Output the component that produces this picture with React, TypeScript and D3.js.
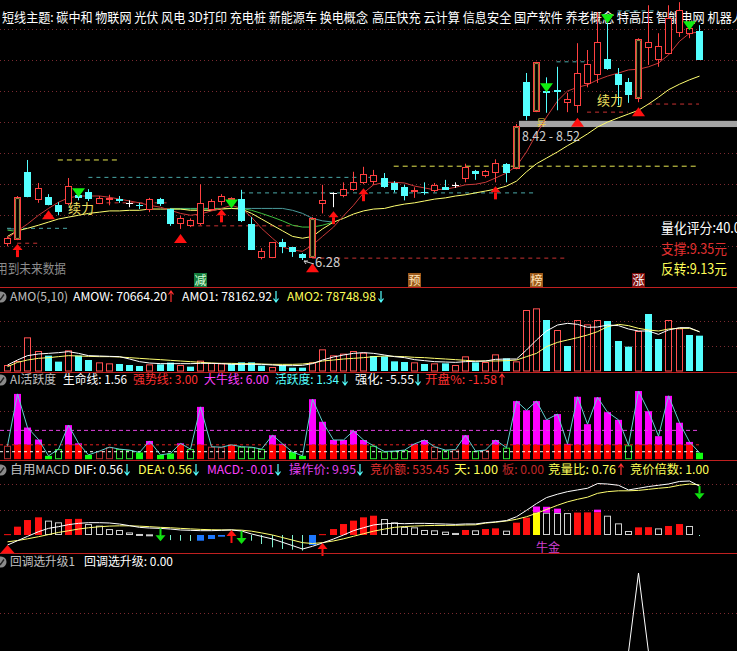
import React from 'react';
import * as d3 from 'd3';

const W = 737;
const H = 651;
const FONT = '"Noto Sans CJK SC", "Noto Sans", sans-serif';

// daily candles, 69 sessions
const opens = [6.55, 6.62, 7.70, 7.26, 7.29, 7.16, 7.20, 7.32, 7.37, 7.20,
  7.27, 7.26, 7.20, 7.17, 7.10, 7.26, 7.10, 6.87, 6.84, 6.87,
  7.10, 7.23, 7.27, 7.26, 6.86, 6.33, 6.33, 6.57, 6.49, 6.38,
  6.33, 7.20, 7.36, 7.33, 7.42, 7.53, 7.55, 7.60, 7.52, 7.45,
  7.40, 7.38, 7.41, 7.45, 7.49, 7.60, 7.71, 7.65, 7.70, 7.83,
  7.76, 9.14, 8.68, 9.00, 9.02, 8.82, 8.77, 9.13, 9.27, 9.51,
  9.27, 9.14, 8.89, 9.71, 9.51, 9.61, 9.95, 9.93, 9.97];
const closes = [6.63, 7.29, 7.31, 7.44, 7.18, 7.07, 7.47, 7.30, 7.28, 7.28,
  7.28, 7.25, 7.20, 7.16, 7.26, 7.20, 6.87, 6.95, 6.92, 7.20,
  7.23, 7.31, 7.28, 6.92, 6.46, 6.42, 6.57, 6.50, 6.42, 6.33,
  6.95, 7.24, 7.36, 7.42, 7.53, 7.66, 7.65, 7.47, 7.42, 7.33,
  7.41, 7.37, 7.49, 7.42, 7.49, 7.78, 7.68, 7.71, 7.84, 7.70,
  8.44, 8.61, 9.47, 8.98, 9.00, 8.87, 9.29, 9.43, 9.79, 9.37,
  9.11, 8.95, 9.84, 9.79, 9.72, 10.17, 10.30, 10.01, 9.51];
const highs = [6.66, 7.31, 7.89, 7.52, 7.34, 7.21, 7.60, 7.37, 7.42, 7.31,
  7.33, 7.31, 7.24, 7.20, 7.28, 7.28, 7.11, 6.99, 6.95, 7.50,
  7.26, 7.34, 7.29, 7.41, 6.97, 6.47, 6.57, 6.62, 6.49, 6.39,
  6.97, 7.49, 7.37, 7.53, 7.70, 7.78, 7.73, 7.68, 7.55, 7.49,
  7.45, 7.53, 7.52, 7.57, 7.53, 7.83, 7.73, 7.73, 7.90, 7.84,
  8.47, 9.29, 9.47, 9.22, 9.39, 8.97, 9.77, 9.66, 10.27, 10.19,
  9.37, 9.21, 9.85, 10.38, 9.93, 10.38, 10.43, 10.14, 10.06];
const lows = [6.50, 6.60, 7.29, 7.20, 7.16, 7.00, 7.16, 7.24, 7.23, 7.18,
  7.16, 7.20, 7.13, 7.10, 7.05, 7.15, 6.83, 6.78, 6.81, 6.84,
  7.07, 7.16, 7.24, 6.89, 6.44, 6.29, 6.31, 6.39, 6.33, 6.28,
  6.31, 7.03, 7.13, 7.29, 7.39, 7.50, 7.49, 7.44, 7.37, 7.24,
  7.28, 7.33, 7.37, 7.41, 7.44, 7.53, 7.57, 7.61, 7.53, 7.53,
  7.74, 8.53, 8.66, 8.65, 8.69, 8.66, 8.65, 9.06, 9.13, 9.34,
  8.77, 8.81, 8.82, 9.42, 9.39, 9.60, 9.87, 9.85, 9.50];

// moving averages on the price panel
const maRed = [6.63, 6.75, 6.86, 7.00, 7.11, 7.21, 7.28, 7.31, 7.31, 7.31,
  7.29, 7.26, 7.23, 7.20, 7.16, 7.13, 7.08, 7.03, 7.00, 7.02,
  7.07, 7.11, 7.16, 7.11, 6.97, 6.79, 6.63, 6.49, 6.44, 6.42,
  6.52, 6.66, 6.81, 6.99, 7.16, 7.36, 7.49, 7.53, 7.53, 7.52,
  7.47, 7.44, 7.41, 7.42, 7.45, 7.49, 7.50, 7.53, 7.60, 7.68,
  7.79, 8.02, 8.31, 8.58, 8.84, 9.00, 9.06, 9.10, 9.18, 9.24,
  9.29, 9.34, 9.35, 9.39, 9.45, 9.58, 9.80, 9.93, 9.95];
const maYellow = [6.66, 6.75, 6.79, 6.84, 6.89, 6.94, 6.97, 7.00, 7.03, 7.05,
  7.07, 7.07, 7.08, 7.08, 7.10, 7.10, 7.10, 7.10, 7.08, 7.08,
  7.08, 7.10, 7.11, 7.10, 7.03, 6.94, 6.84, 6.75, 6.66, 6.63,
  6.66, 6.78, 6.89, 6.95, 7.02, 7.07, 7.10, 7.11, 7.15, 7.18,
  7.20, 7.23, 7.26, 7.28, 7.31, 7.33, 7.36, 7.39, 7.42, 7.47,
  7.55, 7.70, 7.83, 7.92, 8.02, 8.12, 8.21, 8.31, 8.42, 8.50,
  8.57, 8.63, 8.69, 8.79, 8.90, 9.02, 9.11, 9.18, 9.24];
const maGreen: (number | null)[] = [6.76, 6.74, ...Array(14).fill(null),
  7.10, 7.10, 7.10, 7.10, 7.10, 7.11, 7.11, 7.11,
  7.08, 7.03, 6.97, 6.91, 6.84, 6.81, 6.81, 6.84, 6.89, ...Array(36).fill(null)];
const maTeal: (number | null)[] = [6.78, 6.78, ...Array(14).fill(null),
  7.11, 7.11, 7.11, 7.11, 7.11, 7.11, 7.11, 7.11, 7.11, 7.11, 7.11, 7.11,
  7.08, 7.03, 6.95, 6.91, 6.89, ...Array(36).fill(null)];

// dashed level lines: [from index, to index, price]
const yellowLevels = [[5, 11, 7.89], [38, 68, 7.79]];
const tealLevels = [[0, 6, 6.79], [8, 36, 7.61], [23, 52, 7.36], [54, 57, 9.47], [60, 64, 10.29]];
const redLevels = [[1, 3, 6.55], [9, 16, 7.20], [18, 29, 6.83], [30, 55, 6.31], [57, 61, 8.66], [63, 68, 8.79]];
const bandLow = 8.42;
const bandHigh = 8.52;

// signals on the price panel
const upArrowIdx = [1, 21, 32, 35, 48];
const redTriIdx = [4, 17, 30, 56, 62];
const greenTriIdx = [7, 22, 53, 59, 67];
const greenTriPrice = [7.29, 7.11, 8.98, 10.09, 9.98];
const xuliIdx = [6, 58];
const xuliPrice = [7.03, 8.77];
const tagIdx = [19, 40, 52, 62];
const tagText = ['减', '预', '榜', '涨'];

// turnover (AMO)
const amo = [12000, 20000, 67300, 40000, 30700, 18700, 41300, 30700, 22000, 17300,
  15300, 14000, 12000, 10000, 13300, 13300, 16700, 12000, 8700, 20700,
  16000, 15300, 14700, 17300, 17300, 10700, 8000, 12000, 6700, 6700,
  17300, 43300, 31300, 34700, 40000, 36700, 30000, 29300, 19300, 18000,
  17300, 14000, 15300, 15300, 12000, 29300, 17300, 18000, 33300, 25300,
  19300, 122000, 125300, 102000, 82000, 50000, 102000, 93300, 102000, 100000,
  60000, 48700, 80000, 114000, 64000, 102000, 85300, 72000, 70664];
const amo1 = [12000, 22000, 30700, 34000, 35300, 36700, 38700, 35300, 30700, 30000,
  29300, 28700, 24000, 18700, 16000, 14700, 14700, 14700, 14700, 15300,
  15300, 14700, 13300, 13300, 13300, 13300, 12000, 10700, 10700, 11300,
  14700, 22000, 28000, 32000, 35300, 36700, 35300, 32000, 28700, 26700,
  22700, 20700, 18700, 18000, 17300, 18700, 19300, 20000, 23300, 24000,
  24000, 42000, 62000, 80000, 92000, 95300, 93300, 87300, 88000, 92000,
  90700, 84000, 80000, 80000, 73300, 82000, 86700, 86700, 78163];
const amo2 = [8700, 17300, 22000, 25300, 26700, 28700, 30700, 30000, 29300, 28700,
  28700, 28000, 26700, 25300, 24000, 22700, 21300, 20000, 18700, 17300,
  16000, 15300, 15300, 14700, 14700, 14000, 13300, 13300, 13300, 14000,
  16000, 20000, 22000, 24000, 25300, 26700, 28700, 30000, 29300, 28700,
  27300, 26700, 25300, 24000, 22700, 21300, 20000, 20000, 20000, 20700,
  22000, 28700, 35300, 48700, 57300, 62000, 66700, 72000, 78700, 88700,
  93300, 90700, 85300, 82000, 80000, 84000, 85300, 85300, 78749];

// AI activity
const activity = [2.8, 13.6, 6.6, 4.1, 0.7, 2.1, 7.1, 3.3, 0.9, 1.7,
  2.5, 2.1, 1.9, 1.4, 3.8, 0.9, 1.2, 3.3, 2.1, 10.9,
  2.6, 2.5, 3.0, 2.6, 2.5, 2.1, 5.0, 3.2, 1.5, 0.7,
  12.5, 7.8, 4.0, 4.0, 5.9, 4.0, 2.8, 1.6, 1.7, 1.9,
  3.2, 4.0, 2.6, 1.9, 2.0, 5.0, 1.7, 1.9, 4.0, 2.4,
  12.1, 10.2, 12.1, 8.2, 9.4, 3.2, 13.0, 7.3, 12.9, 9.8,
  8.2, 2.9, 14.2, 10.0, 4.8, 13.2, 7.6, 3.6, 1.34];
const lifeLine = 1.56;
const strongLine = 3.0;
const bullLine = 6.0;

// MACD
const dif = [-0.118, -0.067, -0.016, 0.039, 0.078, 0.098, 0.122, 0.137, 0.145, 0.145,
  0.141, 0.129, 0.11, 0.09, 0.082, 0.078, 0.07, 0.059, 0.055, 0.051,
  0.051, 0.055, 0.059, 0.047, 0.012, -0.016, -0.047, -0.086, -0.125, -0.165,
  -0.133, -0.094, -0.047, 0.0, 0.051, 0.086, 0.118, 0.133, 0.137, 0.133,
  0.137, 0.137, 0.133, 0.129, 0.125, 0.13, 0.13, 0.145, 0.155, 0.17,
  0.215, 0.29, 0.37, 0.44, 0.48, 0.51, 0.53, 0.55, 0.605, 0.6,
  0.585, 0.53, 0.55, 0.57, 0.585, 0.6, 0.63, 0.635, 0.575];
const dea = [-0.08, -0.065, -0.045, -0.02, 0.005, 0.03, 0.05, 0.07, 0.085, 0.097,
  0.105, 0.108, 0.108, 0.104, 0.098, 0.09, 0.085, 0.078, 0.072, 0.066,
  0.062, 0.06, 0.06, 0.057, 0.045, 0.025, 0.0, -0.03, -0.06, -0.09,
  -0.1, -0.09, -0.07, -0.045, -0.015, 0.015, 0.045, 0.07, 0.09, 0.1,
  0.105, 0.11, 0.112, 0.113, 0.114, 0.118, 0.12, 0.14, 0.15, 0.165,
  0.185, 0.215, 0.255, 0.3, 0.35, 0.39, 0.42, 0.445, 0.49, 0.51,
  0.52, 0.52, 0.525, 0.537, 0.55, 0.56, 0.585, 0.6, 0.59];
const macd = [0.01, 0.098, 0.176, 0.208, 0.169, 0.149, 0.188, 0.19, 0.129, 0.11,
  0.07, 0.059, 0.03, 0.012, 0.008, -0.03, -0.06, -0.067, -0.07, -0.067,
  -0.047, -0.02, -0.005, -0.047, -0.067, -0.106, -0.145, -0.165, -0.173, -0.184,
  -0.118, 0.01, 0.07, 0.129, 0.169, 0.208, 0.227, 0.188, 0.149, 0.095,
  0.09, 0.059, 0.055, 0.039, 0.024, 0.059, 0.055, 0.07, 0.078, 0.051,
  0.145, 0.204, 0.265, 0.262, 0.26, 0.258, 0.264, 0.266, 0.268, 0.227,
  0.137, 0.047, 0.09, 0.092, 0.078, 0.106, 0.129, 0.106, -0.004];
const bullIdx = [52, 53, 54, 58];
const bullCap = [0.07, 0.07, 0.05, 0.03];
const macdUpIdx = [0, 22, 31];
const macdDownIdx = [15, 23, 68];

// pullback selection signal
const pullback = [0, 0, 0, 0, 0, 0, 0, 0, 0, 0,
  0, 0, 0, 0, 0, 0, 0, 0, 0, 0,
  0, 0, 0, 0, 0, 0, 0, 0, 0, 0,
  0, 0, 0, 0, 0, 0, 0, 0, 0, 0,
  0, 0, 0, 0, 0, 0, 0, 0, 0, 0,
  0, 0, 0, 0, 0, 0, 0, 0, 0, 0,
  0, 0, 1, 0, 0, 0, 0, 0, 0];

const RED = '#ff4040';
const CYAN = '#54ffff';
const YELLOW = '#ffff58';
const MAGENTA = '#ff40ff';
const GRAY = '#c0c0c0';
const GRID = '#7a2a30';
const SEP = '#c02020';

type Seg = { t: string; x: number; x2: number; c: string };

function Label({ s, y, size = 12 }: { s: Seg; y: number; size?: number }) {
  return (
    <text x={s.x} y={y} fill={s.c} fontSize={size} fontFamily={FONT}
      textLength={s.x2 - s.x} lengthAdjust="spacingAndGlyphs">{s.t}</text>
  );
}

function SmallArrow({ x, y, up, color }: { x: number; y: number; up: boolean; color: string }) {
  const top = y - 10;
  const bot = y + 1;
  const d = up
    ? `M${x},${bot}V${top}M${x - 2.5},${top + 3.5}L${x},${top}L${x + 2.5},${top + 3.5}`
    : `M${x},${top}V${bot}M${x - 2.5},${bot - 3.5}L${x},${bot}L${x + 2.5},${bot - 3.5}`;
  return <path d={d} stroke={color} strokeWidth={1.2} fill="none" />;
}

function PanelIcon({ y }: { y: number }) {
  return (
    <g>
      <circle cx={1} cy={y} r={5.5} fill="#8a8a8a" />
      <path d={`M-2,${y} L0.5,${y + 2.5} L4,${y - 2.5}`} stroke="#222" strokeWidth={1.4} fill="none" />
    </g>
  );
}

export default function App() {
  const n = closes.length;
  const xs = d3.scaleLinear().domain([0, n - 1]).range([7, 699]);
  const px = (i: number) => Math.round(xs(i));

  const yP = d3.scaleLinear().domain([6.28, 10.465]).range([260, 0]);
  const yAmo = d3.scaleLinear().domain([0, 100000]).range([371, 321]);
  const yAi = d3.scaleLinear().domain([0, 10]).range([459.2, 411.2]);
  const yMacd = d3.scaleLinear().domain([0, 0.6]).range([535, 484]);
  const yBot = d3.scaleLinear().domain([0, 1]).range([652, 573]);

  const rise = (i: number) => i === 0 || closes[i] >= closes[i - 1];

  const lineOf = (scale: d3.ScaleLinear<number, number>) =>
    d3.line<number | null>()
      .defined((d) => d != null)
      .x((_, i) => px(i) + 0.5)
      .y((d) => scale(d as number));

  const priceLine = lineOf(yP);
  const amoLine = lineOf(yAmo);
  const aiLine = lineOf(yAi);
  const macdLine = lineOf(yMacd);
  const botLine = lineOf(yBot);

  const lowIdx = d3.minIndex(lows);

  const title1 = '短线主题: 碳中和 物联网 光伏 风电 3D打印 充电桩 新能源车 换电概念';
  const title2 = '高压快充 云计算 信息安全 国产软件 养老概念 特高压 智能电网 机器人';

  const amoHead: Seg[] = [
    { t: 'AMO(5,10)', x: 10, x2: 68, c: GRAY },
    { t: 'AMOW: 70664.20', x: 73, x2: 167, c: '#ffffff' },
    { t: 'AMO1: 78162.92', x: 182, x2: 272, c: '#ffffff' },
    { t: 'AMO2: 78748.98', x: 287, x2: 376, c: YELLOW },
  ];
  const aiHead: Seg[] = [
    { t: 'AI活跃度', x: 10, x2: 56, c: GRAY },
    { t: '生命线: 1.56', x: 63, x2: 127, c: '#ffffff' },
    { t: '强势线: 3.00', x: 133, x2: 198, c: '#ff3030' },
    { t: '大牛线: 6.00', x: 204, x2: 269, c: MAGENTA },
    { t: '活跃度: 1.34', x: 275, x2: 339, c: CYAN },
    { t: '强化: -5.55', x: 355, x2: 414, c: '#ffffff' },
    { t: '开盘%: -1.58', x: 425, x2: 497, c: '#ff3030' },
  ];
  const macdHead: Seg[] = [
    { t: '自用MACD', x: 10, x2: 70, c: GRAY },
    { t: 'DIF: 0.56', x: 74, x2: 123, c: '#ffffff' },
    { t: 'DEA: 0.56', x: 138, x2: 192, c: YELLOW },
    { t: 'MACD: -0.01', x: 207, x2: 274, c: MAGENTA },
    { t: '操作价: 9.95', x: 289, x2: 356, c: '#e040f0' },
    { t: '竞价额: 535.45', x: 370, x2: 449, c: '#e03030' },
    { t: '天: 1.00', x: 454, x2: 498, c: YELLOW },
    { t: '板: 0.00', x: 502, x2: 544, c: '#c02828' },
    { t: '竞量比: 0.76', x: 548, x2: 616, c: YELLOW },
    { t: '竞价倍数: 1.00', x: 630, x2: 709, c: YELLOW },
  ];
  const botHead: Seg[] = [
    { t: '回调选升级1', x: 10, x2: 75, c: GRAY },
    { t: '回调选升级: 0.00', x: 84, x2: 173, c: '#ffffff' },
  ];

  const candles = opens.map((o, i) => {
    const c = closes[i];
    const x = px(i) + 0.5;
    const yT = Math.round(yP(Math.max(o, c))) + 0.5;
    const yB = Math.round(yP(Math.min(o, c))) + 0.5;
    const yH = yP(highs[i]);
    const yL = yP(lows[i]);
    if (c > o) {
      // limit-up sessions get a faint inner yellow frame
      const limitUp = i > 0 && c / closes[i - 1] - 1 >= 0.095;
      return (
        <g key={i}>
          <line x1={x} x2={x} y1={yH} y2={yT} stroke={RED} />
          <line x1={x} x2={x} y1={yB} y2={yL} stroke={RED} />
          <rect x={x - 3} y={yT} width={6} height={Math.max(1, yB - yT)} fill="#000" stroke={RED} />
          {limitUp && (
            <rect x={x - 1.8} y={yT + 1.2} width={3.6} height={Math.max(1, yB - yT - 2.4)}
              fill="none" stroke="#e0c860" strokeWidth={0.7} />
          )}
        </g>
      );
    }
    if (c < o) {
      return (
        <g key={i}>
          <line x1={x} x2={x} y1={yH} y2={yL} stroke={CYAN} />
          <rect x={x - 3.5} y={yT - 0.5} width={7} height={Math.max(1, yB - yT + 1)} fill={CYAN} />
        </g>
      );
    }
    return (
      <g key={i}>
        <line x1={x} x2={x} y1={yH} y2={yL} stroke="#ffffff" />
        <line x1={x - 3.5} x2={x + 3.5} y1={yT} y2={yT} stroke="#ffffff" />
      </g>
    );
  });

  return (
    <svg width={W} height={H} style={{ position: 'absolute', left: 0, top: 0, display: 'block' }}>
      <defs>
        <clipPath id="mainClip"><rect x={0} y={0} width={W} height={287} /></clipPath>
        <clipPath id="botClip"><rect x={0} y={554} width={W} height={H - 554} /></clipPath>
      </defs>
      <rect x={0} y={0} width={W} height={H} fill="#000" />

      {/* ---------- price panel ---------- */}
      <g clipPath="url(#mainClip)">
        {d3.range(6.5, 10.01, 0.5).map((p) => (
          <line key={p} x1={0} x2={W} y1={Math.round(yP(p)) + 0.5} y2={Math.round(yP(p)) + 0.5}
            stroke={GRID} strokeDasharray="1 3" />
        ))}
        <text x={2} y={22} fill="#ffffff" fontSize={13} fontFamily={FONT}
          textLength={366} lengthAdjust="spacingAndGlyphs">{title1}</text>
        <text x={372} y={22} fill="#ffffff" fontSize={13} fontFamily={FONT}
          textLength={372} lengthAdjust="spacingAndGlyphs">{title2}</text>

        <rect x={px(50) + 3} y={yP(bandHigh)} width={W} height={yP(bandLow) - yP(bandHigh)} fill="#a4a4a4" />

        {yellowLevels.map(([a, b, p], k) => (
          <line key={'yl' + k} x1={xs(a)} x2={xs(b)} y1={yP(p)} y2={yP(p)} stroke="#e6e650" strokeDasharray="5 4" />
        ))}
        {tealLevels.map(([a, b, p], k) => (
          <line key={'tl' + k} x1={xs(a)} x2={xs(b)} y1={yP(p)} y2={yP(p)} stroke="#4aa8a8" strokeDasharray="4 4" />
        ))}
        {redLevels.map(([a, b, p], k) => (
          <line key={'rl' + k} x1={xs(a)} x2={xs(b)} y1={yP(p)} y2={yP(p)} stroke="#c83232" strokeDasharray="4 4" />
        ))}

        <path d={priceLine(maTeal) ?? ''} fill="none" stroke="#4a9a9a" strokeWidth={1} />
        <path d={priceLine(maGreen) ?? ''} fill="none" stroke="#40c040" strokeWidth={1} />
        <path d={priceLine(maYellow) ?? ''} fill="none" stroke="#ffff70" strokeWidth={1} />
        <path d={priceLine(maRed) ?? ''} fill="none" stroke="#c83838" strokeWidth={1} />

        {candles}

        {upArrowIdx.map((i) => {
          const x = px(i) + 0.5;
          const t = yP(lows[i]) + 4;
          return (
            <g key={'ua' + i}>
              <path d={`M${x},${t} L${x - 5},${t + 6} L${x + 5},${t + 6} Z`} fill="#ff1010" />
              <rect x={x - 1.5} y={t + 6} width={3} height={7} fill="#ff1010" />
            </g>
          );
        })}
        {redTriIdx.map((i) => {
          const x = px(i) + 0.5;
          const t = yP(lows[i]) + 5;
          return <path key={'rt' + i} d={`M${x},${t} L${x - 6.5},${t + 9} L${x + 6.5},${t + 9} Z`} fill="#ff1010" />;
        })}
        {greenTriIdx.map((i, k) => {
          const x = px(i) + 0.5;
          const b = yP(greenTriPrice[k]);
          return <path key={'gt' + i} d={`M${x - 6.5},${b - 9} L${x + 6.5},${b - 9} L${x},${b} Z`} fill="#10ee10" />;
        })}

        {xuliIdx.map((i, k) => (
          <text key={'xl' + i} x={px(i)} y={yP(xuliPrice[k])} fill="#f0e060" fontSize={13} fontFamily={FONT}>续力</text>
        ))}

        <path d={`M${px(lowIdx) + 2},${yP(lows[lowIdx]) + 1} L${px(lowIdx) + 12},${yP(lows[lowIdx]) + 4}
          M${px(lowIdx) + 2},${yP(lows[lowIdx]) + 1} L${px(lowIdx) + 6},${yP(lows[lowIdx]) + 1}
          M${px(lowIdx) + 2},${yP(lows[lowIdx]) + 1} L${px(lowIdx) + 4},${yP(lows[lowIdx]) + 4}`}
          stroke="#d0d0d0" fill="none" />
        <text x={px(lowIdx) + 13} y={yP(lows[lowIdx]) + 7} fill="#d0d0d0" fontSize={13} fontFamily={FONT}>
          {lows[lowIdx].toFixed(2)}
        </text>
        <text x={522} y={141} fill="#d0d0d0" fontSize={13} fontFamily={FONT}
          textLength={58} lengthAdjust="spacingAndGlyphs">{`${bandLow.toFixed(2)} - ${bandHigh.toFixed(2)}`}</text>
        <text x={537} y={126} fill="#f0d040" fontSize={9} fontFamily={FONT}>异</text>

        <text x={-4} y={273} fill="#8c8c8c" fontSize={13} fontFamily={FONT}
          textLength={70} lengthAdjust="spacingAndGlyphs">用到未来数据</text>
        <text x={661} y={233} fill="#ffffff" fontSize={14} fontFamily={FONT}
          textLength={80} lengthAdjust="spacingAndGlyphs">量化评分:40.0</text>
        <text x={661} y={254} fill="#e03030" fontSize={14} fontFamily={FONT}
          textLength={66} lengthAdjust="spacingAndGlyphs">支撑:9.35元</text>
        <text x={661} y={274} fill={YELLOW} fontSize={14} fontFamily={FONT}
          textLength={66} lengthAdjust="spacingAndGlyphs">反转:9.13元</text>

        {tagIdx.map((i, k) => {
          const bg = ['#147a3c', '#9c5a1c', '#9c5a1c', '#7c0c0c'][k];
          const fg = ['#d8ffd8', '#ffe4b8', '#ffe4b8', '#ffffff'][k];
          return (
            <g key={'tag' + i}>
              <rect x={px(i) - 6} y={273} width={13} height={14} fill={bg} />
              <text x={px(i) + 0.5} y={285} fill={fg} fontSize={12} fontFamily={FONT} textAnchor="middle">{tagText[k]}</text>
            </g>
          );
        })}
      </g>
      <line x1={0} x2={W} y1={287.5} y2={287.5} stroke={SEP} />

      {/* ---------- AMO panel ---------- */}
      <PanelIcon y={297} />
      {amoHead.map((s) => <Label key={s.t} s={s} y={301} />)}
      <SmallArrow x={171} y={301} up color="#ff3030" />
      <SmallArrow x={276} y={301} up={false} color={CYAN} />
      <SmallArrow x={381} y={301} up={false} color={CYAN} />
      {[50000, 100000].map((v) => (
        <line key={v} x1={0} x2={W} y1={Math.round(yAmo(v)) + 0.5} y2={Math.round(yAmo(v)) + 0.5}
          stroke={GRID} strokeDasharray="1 3" />
      ))}
      {amo.map((v, i) => {
        const x = px(i);
        const y = yAmo(v);
        return rise(i) ? (
          <rect key={'amo' + i} x={x - 2.5} y={y + 0.5} width={6} height={Math.max(1, 370.5 - y)} fill="none" stroke="#ff5050" />
        ) : (
          <rect key={'amo' + i} x={x - 3} y={y} width={7} height={371 - y} fill={CYAN} />
        );
      })}
      <path d={amoLine(amo2) ?? ''} fill="none" stroke="#ffff70" />
      <path d={amoLine(amo1) ?? ''} fill="none" stroke="#ffffff" />
      <line x1={0} x2={W} y1={372.5} y2={372.5} stroke={SEP} />

      {/* ---------- AI activity panel ---------- */}
      <PanelIcon y={380} />
      {aiHead.map((s) => <Label key={s.t} s={s} y={384} />)}
      <SmallArrow x={345} y={384} up={false} color={CYAN} />
      <SmallArrow x={418} y={384} up={false} color={CYAN} />
      <SmallArrow x={502} y={384} up color="#ff3030" />
      <line x1={0} x2={W} y1={Math.round(yAi(10)) + 0.5} y2={Math.round(yAi(10)) + 0.5} stroke={GRID} strokeDasharray="1 3" />
      {activity.map((v, i) => {
        const x = px(i) - 3;
        if (v >= strongLine) {
          return (
            <g key={'ai' + i}>
              <rect x={x} y={yAi(strongLine)} width={7} height={yAi(0) - yAi(strongLine)} fill="#ff0000" />
              {v > strongLine && <rect x={x} y={yAi(v)} width={7} height={yAi(strongLine) - yAi(v)} fill="#ff00ff" />}
            </g>
          );
        }
        const col = rise(i) ? '#b83030' : '#30e030';
        return v < lifeLine ? (
          <rect key={'ai' + i} x={x} y={yAi(v)} width={7} height={yAi(0) - yAi(v)} fill={rise(i) ? '#e02020' : '#10ff10'} />
        ) : (
          <rect key={'ai' + i} x={x + 0.5} y={yAi(v) + 0.5} width={6} height={yAi(0) - yAi(v) - 1} fill="none" stroke={col} />
        );
      })}
      <line x1={0} x2={700} y1={yAi(bullLine)} y2={yAi(bullLine)} stroke="#e040e0" strokeDasharray="4 3" />
      <line x1={0} x2={700} y1={yAi(strongLine)} y2={yAi(strongLine)} stroke="#e02020" strokeDasharray="3 3" />
      <line x1={0} x2={700} y1={yAi(lifeLine)} y2={yAi(lifeLine)} stroke="#ffffff" strokeDasharray="3 3" />
      <path d={aiLine(activity) ?? ''} fill="none" stroke="#60d0d0" strokeWidth={1} />
      <line x1={0} x2={W} y1={460.5} y2={460.5} stroke={SEP} />

      {/* ---------- MACD panel ---------- */}
      <PanelIcon y={470} />
      {macdHead.map((s) => <Label key={s.t} s={s} y={474} />)}
      <SmallArrow x={127} y={474} up={false} color={CYAN} />
      <SmallArrow x={196} y={474} up={false} color={CYAN} />
      <SmallArrow x={278} y={474} up={false} color={CYAN} />
      <SmallArrow x={360} y={474} up={false} color={CYAN} />
      <SmallArrow x={621} y={474} up color="#ff3030" />
      {[0.3, 0.6].map((v) => (
        <line key={v} x1={0} x2={W} y1={Math.round(yMacd(v)) + 0.5} y2={Math.round(yMacd(v)) + 0.5}
          stroke={GRID} strokeDasharray="1 3" />
      ))}
      {macd.map((v, i) => {
        const x = px(i);
        const y0 = yMacd(0);
        const yv = yMacd(v);
        const up = i === 0 || v > macd[i - 1];
        const b = bullIdx.indexOf(i);
        let bar;
        if (v >= 0) {
          if (b === 0) bar = <rect x={x - 3} y={yv} width={7} height={y0 - yv} fill="#ffff00" />;
          else if (up) bar = <rect x={x - 3} y={yv} width={7} height={Math.max(1, y0 - yv)} fill="#ff1010" />;
          else bar = <rect x={x - 2.5} y={yv + 0.5} width={6} height={Math.max(1, y0 - yv - 1)} fill="none" stroke="#d0d0d0" />;
        } else if (up) {
          bar = <rect x={x - 3} y={y0} width={7} height={yv - y0} fill="#1e78ff" />;
        } else {
          bar = <line x1={x + 0.5} x2={x + 0.5} y1={y0} y2={Math.max(y0 + 1, yv)} stroke="#80f0d0" />;
        }
        return (
          <g key={'m' + i}>
            {bar}
            {b >= 0 && <rect x={x - 3} y={yMacd(v + bullCap[b])} width={7} height={yv - yMacd(v + bullCap[b])} fill="#ff10ff" />}
          </g>
        );
      })}
      <path d={macdLine(dea) ?? ''} fill="none" stroke="#ffff70" />
      <path d={macdLine(dif) ?? ''} fill="none" stroke="#ffffff" />
      <text x={px(bullIdx[0])} y={552} fill="#d040d0" fontSize={12} fontFamily={FONT}>牛金</text>
      {macdUpIdx.map((i) => {
        const x = px(i) + 0.5;
        const t = yMacd(dif[i]);
        return i === 0 ? (
          <path key={'mu' + i} d={`M${x},${t} L${x - 7},${t + 8} L${x + 7},${t + 8} Z`} fill="#ff1010" />
        ) : (
          <g key={'mu' + i}>
            <path d={`M${x},${t} L${x - 5},${t + 6} L${x + 5},${t + 6} Z`} fill="#ff1010" />
            <rect x={x - 1} y={t + 6} width={2} height={7} fill="#ff1010" />
          </g>
        );
      })}
      {macdDownIdx.map((i) => {
        const x = px(i) + 0.5;
        const t = yMacd(dif[i]);
        return (
          <g key={'md' + i}>
            <rect x={x - 1} y={t} width={2} height={7} fill="#10e010" />
            <path d={`M${x - 5},${t + 7} L${x + 5},${t + 7} L${x},${t + 13} Z`} fill="#10e010" />
          </g>
        );
      })}
      <line x1={0} x2={W} y1={553.5} y2={553.5} stroke={SEP} />

      {/* ---------- pullback panel ---------- */}
      <PanelIcon y={562} />
      {botHead.map((s) => <Label key={s.t} s={s} y={566} />)}
      <line x1={0} x2={W} y1={Math.round(yBot(0.5)) + 0.5} y2={Math.round(yBot(0.5)) + 0.5} stroke={GRID} strokeDasharray="1 3" />
      <g clipPath="url(#botClip)">
        <path d={botLine(pullback) ?? ''} fill="none" stroke="#ffffff" />
      </g>
    </svg>
  );
}
